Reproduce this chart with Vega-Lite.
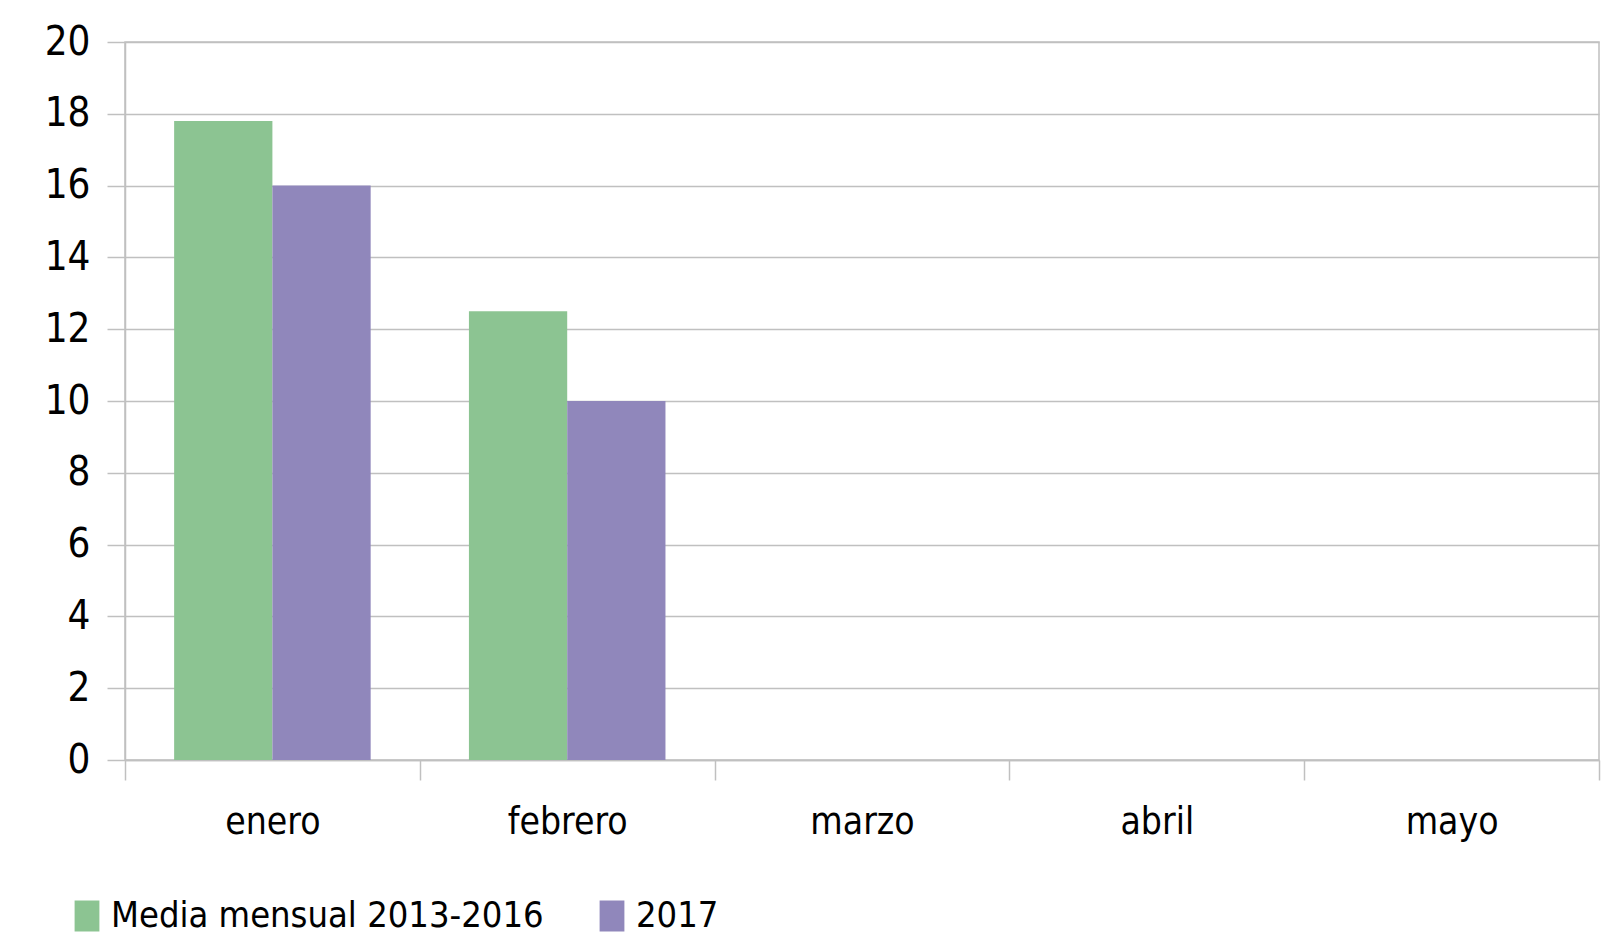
{
  "$schema": "https://vega.github.io/schema/vega-lite/v6.json",
  "width": 1474,
  "height": 718,
  "autosize": {"type": "none"},
  "padding": {"left": 125, "top": 42, "right": 20, "bottom": 178},
  "background": "white",
  "config": {
    "font": "DejaVu Sans Condensed",
    "view": {"stroke": "#c0c0c0", "strokeWidth": 1.5}
  },
  "data": {
    "values": [
      {"mes": "enero", "serie": "Media mensual 2013-2016", "valor": 17.8},
      {"mes": "enero", "serie": "2017", "valor": 16},
      {"mes": "febrero", "serie": "Media mensual 2013-2016", "valor": 12.5},
      {"mes": "febrero", "serie": "2017", "valor": 10},
      {"mes": "marzo", "serie": "Media mensual 2013-2016", "valor": null},
      {"mes": "marzo", "serie": "2017", "valor": null},
      {"mes": "abril", "serie": "Media mensual 2013-2016", "valor": null},
      {"mes": "abril", "serie": "2017", "valor": null},
      {"mes": "mayo", "serie": "Media mensual 2013-2016", "valor": null},
      {"mes": "mayo", "serie": "2017", "valor": null}
    ]
  },
  "mark": {"type": "bar"},
  "encoding": {
    "x": {
      "field": "mes",
      "type": "nominal",
      "sort": ["enero", "febrero", "marzo", "abril", "mayo"],
      "scale": {"paddingInner": 0, "paddingOuter": 0},
      "axis": {
        "title": null,
        "labelAngle": 0,
        "labelFont": "DejaVu Sans Condensed",
        "labelFontSize": 37,
        "labelColor": "#000000",
        "labelPadding": 24,
        "tickBand": "extent",
        "tickSize": 20,
        "tickColor": "#c0c0c0",
        "tickWidth": 1.5,
        "domainColor": "#c0c0c0",
        "domainWidth": 1.5,
        "grid": false
      }
    },
    "xOffset": {
      "field": "serie",
      "type": "nominal",
      "sort": ["Media mensual 2013-2016", "2017"],
      "scale": {"paddingInner": 0, "paddingOuter": 0.5}
    },
    "y": {
      "field": "valor",
      "type": "quantitative",
      "scale": {"domain": [0, 20], "nice": false},
      "axis": {
        "title": null,
        "values": [0, 2, 4, 6, 8, 10, 12, 14, 16, 18, 20],
        "labelFont": "DejaVu Sans Condensed",
        "labelFontSize": 40,
        "labelColor": "#000000",
        "labelPadding": 17,
        "tickSize": 18,
        "tickColor": "#c0c0c0",
        "tickWidth": 1.5,
        "domainColor": "#c0c0c0",
        "domainWidth": 1.5,
        "grid": true,
        "gridColor": "#c0c0c0",
        "gridWidth": 1.5
      }
    },
    "color": {
      "field": "serie",
      "type": "nominal",
      "sort": ["Media mensual 2013-2016", "2017"],
      "scale": {"domain": ["Media mensual 2013-2016", "2017"], "range": ["#8cc492", "#9087bb"]},
      "legend": {
        "title": null,
        "orient": "none",
        "direction": "horizontal",
        "legendX": -56,
        "legendY": 856,
        "labelFont": "DejaVu Sans Condensed",
        "labelFontSize": 36,
        "labelLimit": 1000,
        "labelColor": "#000000",
        "symbolType": "M-0.8,-1H0.8V1H-0.8Z",
        "symbolSize": 961,
        "symbolStrokeWidth": 0,
        "symbolOpacity": 1,
        "labelOffset": 6,
        "columnPadding": 50
      }
    }
  }
}
